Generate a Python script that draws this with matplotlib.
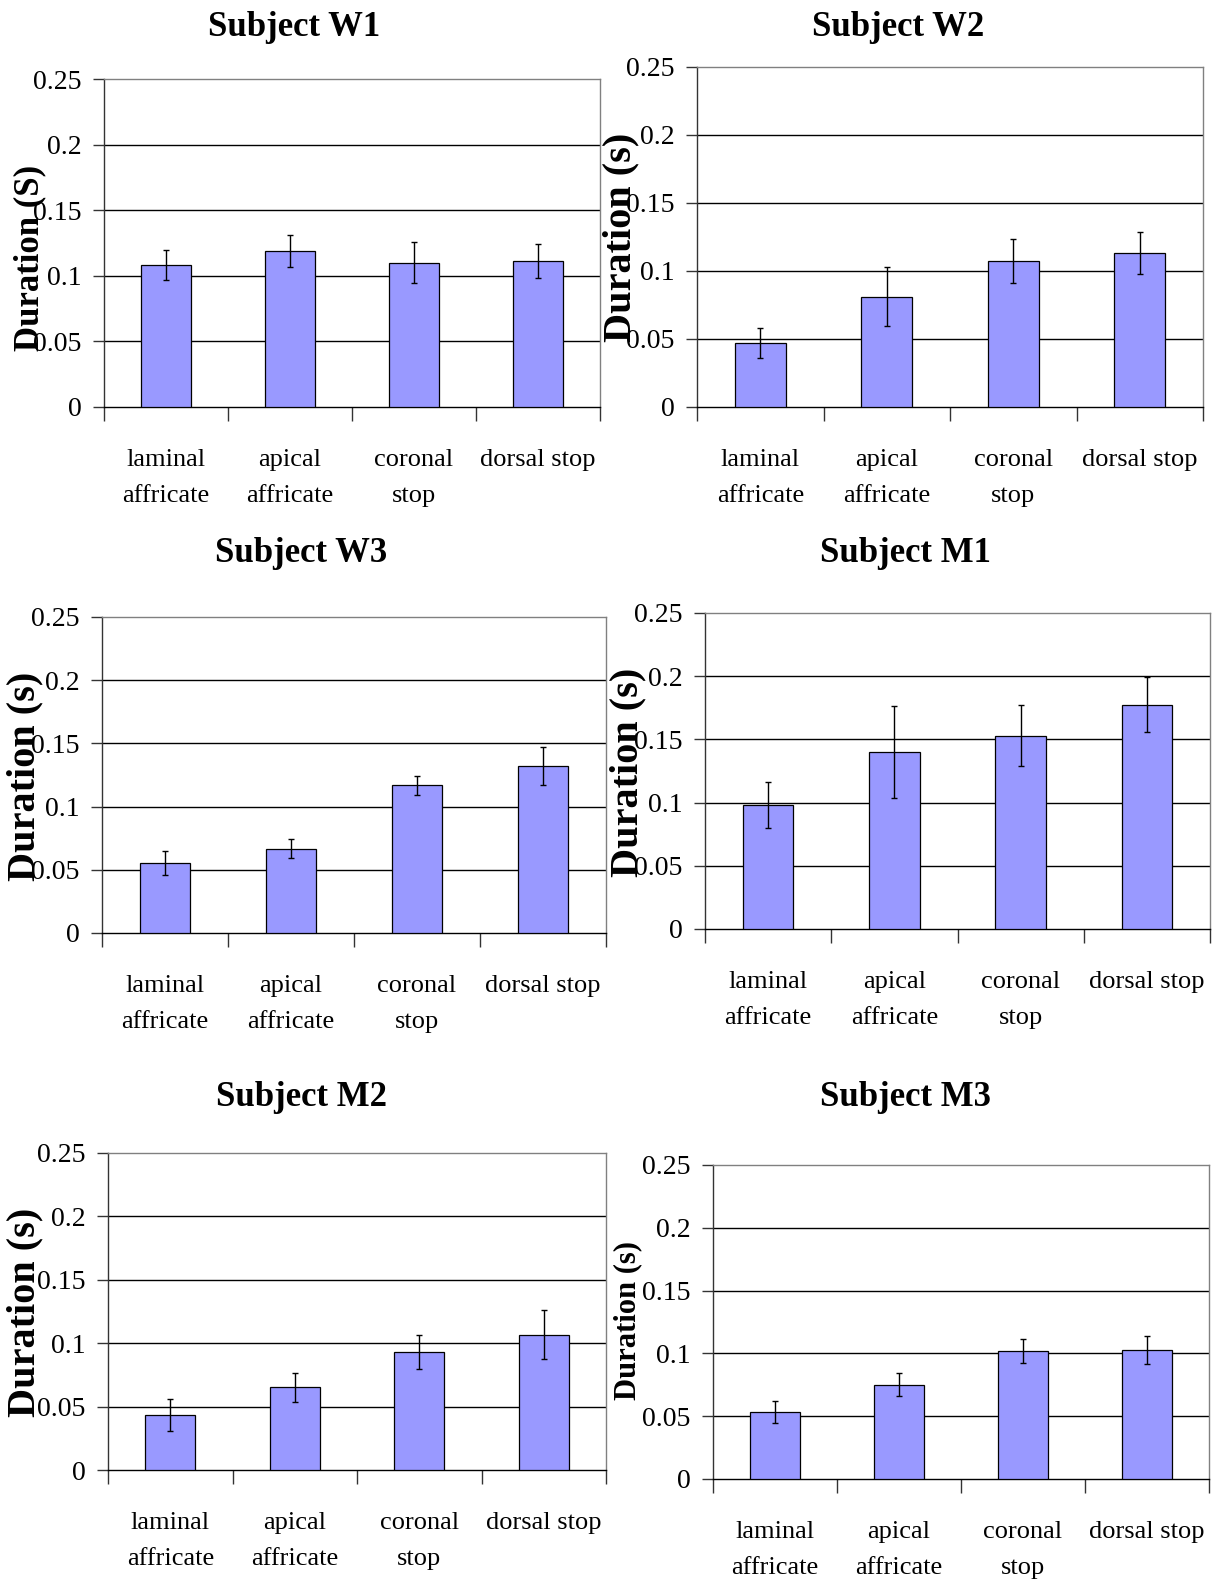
import numpy as np
import matplotlib
matplotlib.use("Agg")
import matplotlib.pyplot as plt

plt.rcParams['font.family'] = ['Liberation Serif', 'DejaVu Serif']

# categories and per-subject means / error bars (seconds)
categories = ['laminal\naffricate', 'apical\naffricate', 'coronal\nstop', 'dorsal stop']
subjects = ['W1', 'W2', 'W3', 'M1', 'M2', 'M3']

w1_mean = [0.108, 0.119, 0.110, 0.111]
w1_err = [0.0115, 0.012, 0.0155, 0.013]
w2_mean = [0.047, 0.081, 0.1075, 0.113]
w2_err = [0.011, 0.0217, 0.016, 0.0155]
w3_mean = [0.0556, 0.0668, 0.117, 0.132]
w3_err = [0.0095, 0.0078, 0.0075, 0.0148]
m1_mean = [0.098, 0.1397, 0.153, 0.1775]
m1_err = [0.018, 0.0364, 0.024, 0.022]
m2_mean = [0.0434, 0.0653, 0.0929, 0.1068]
m2_err = [0.0124, 0.0113, 0.0133, 0.019]
m3_mean = [0.0534, 0.0751, 0.1019, 0.1029]
m3_err = [0.0086, 0.0094, 0.0098, 0.0112]

means = [w1_mean, w2_mean, w3_mean, m1_mean, m2_mean, m3_mean]
errs = [w1_err, w2_err, w3_err, m1_err, m2_err, m3_err]
ylabels = ['Duration (S)', 'Duration (s)', 'Duration (s)', 'Duration (s)', 'Duration (s)', 'Duration (s)']

W, H = 1217, 1585
# axes boxes in pixels: left, right, top, bottom
boxes = [(104, 600, 79, 407), (697, 1203, 67, 407),
         (102, 606, 617, 933), (705, 1210, 613, 929),
         (108, 606, 1153, 1470), (713, 1209, 1165, 1479)]
titles_xy = [(294, 27), (898, 27), (301, 554), (905, 554), (301, 1097), (905, 1097)]
ylab_xy = [(30, 258), (621, 237), (25, 776), (628, 772), (25, 1312), (628, 1321)]
ylab_size = [25, 29, 29, 29, 29, 22]

fig = plt.figure(figsize=(W / 100, H / 100), dpi=100)
fig.patch.set_facecolor('white')

x = np.arange(1, 5)
for i, subj in enumerate(subjects):
    l, r, t, b = boxes[i]
    ax = fig.add_axes([l / W, 1 - b / H, (r - l) / W, (b - t) / H])
    ax.set_zorder(1 if i % 2 == 0 else 2)
    ax.patch.set_alpha(0)
    ax.bar(x, means[i], width=0.4, color='#9999ff', edgecolor='black', linewidth=0.9, zorder=3)
    ax.errorbar(x, means[i], yerr=errs[i], fmt='none', ecolor='black', elinewidth=1,
                capsize=2.5, capthick=1, zorder=4)
    ax.set_xlim(0.5, 4.5)
    ax.set_ylim(0, 0.25)
    ax.set_yticks([0, 0.05, 0.1, 0.15, 0.2, 0.25])
    ax.set_yticklabels(['0', '0.05', '0.1', '0.15', '0.2', '0.25'], fontsize=20)
    ax.set_xticks(x)
    ax.set_xticklabels(categories, fontsize=19, linespacing=1.85)
    ax.set_xticks(np.arange(0.5, 5, 1), minor=True)
    ax.tick_params(axis='x', which='major', length=0, pad=30)
    ax.tick_params(axis='x', which='minor', length=10, width=1, direction='out', color='#333333')
    ax.tick_params(axis='y', length=8, width=1, direction='out', pad=8, color='#333333')
    for yv in [0.05, 0.1, 0.15, 0.2]:
        ax.axhline(yv, color='black', linewidth=1, zorder=1)
    ax.spines['top'].set_color('#808080')
    ax.spines['right'].set_color('#808080')
    ax.spines['left'].set_color('#333333')
    ax.spines['bottom'].set_color('black')
    for s in ax.spines.values():
        s.set_linewidth(1)
    tx, ty = titles_xy[i]
    fig.text(tx / W, 1 - ty / H, 'Subject ' + subj, fontsize=25, fontweight='bold',
             ha='center', va='center')
    lx, ly = ylab_xy[i]
    fig.text(lx / W, 1 - ly / H, ylabels[i], fontsize=ylab_size[i], fontweight='bold',
             rotation=90, ha='center', va='center', zorder=5)

fig.savefig('out.png', dpi=100)
